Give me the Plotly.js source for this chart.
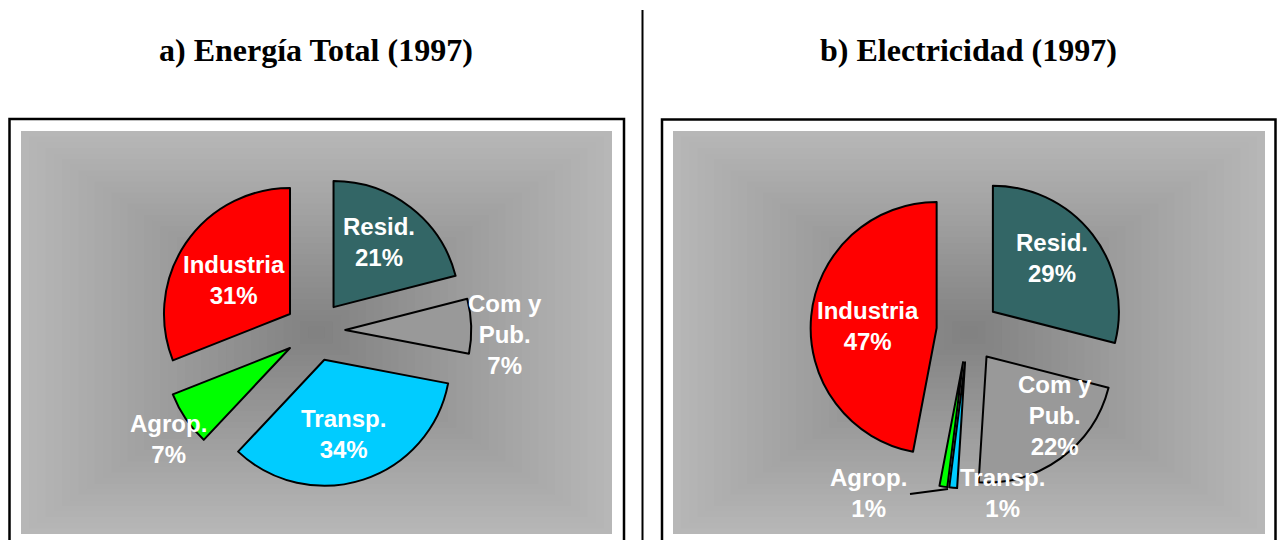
<!DOCTYPE html>
<html><head><meta charset="utf-8">
<script src="https://cdn.plot.ly/plotly-3.0.1.min.js"></script>
<style>html,body{margin:0;padding:0;background:#fff;} #chart{width:1277px;height:540px;}</style>
</head><body><div id="chart"></div>
<script>
// ---- data ----
const categories = ['Resid.', 'Com y Pub.', 'Transp.', 'Agrop.', 'Industria'];
const energiaTotal = [21, 7, 34, 7, 31];
const electricidad = [29, 22, 1, 1, 47];
const panelTitles = ['a) Energía Total (1997)', 'b) Electricidad (1997)'];

// ---- styles / positions ----
const sliceColors = ['#336666', '#999999', '#00CCFF', '#00FF00', '#FF0000'];
const W = 1277, H = 540;
const px = x => x / W;
const py = y => 1 - y / H;

const panels = [
  {values: energiaTotal, title: panelTitles[0], cx: 315, cy: 331, r: 126, pull: 0.24,
   box: [9.5, 119, 624, 560], bg: [21, 131, 612, 534], titleX: 316,
   labelPos: [[379, 242], [505, 334], [343, 434], [168, 439], [234, 280]]},
  {values: electricidad, title: panelTitles[1], cx: 968, cy: 331, r: 126, pull: 0.25,
   box: [662, 119.5, 1275.5, 560], bg: [673, 131, 1265, 534], titleX: 968,
   labelPos: [[1052, 258], [1055, 415], [1002, 493], [868, 493], [868, 326]]}
];

const traces = [];
const shapes = [];
const annotations = [];

// background gradient (rectangular, from center) drawn as concentric rectangles
const edgeGray = 183, centerGray = 128, steps = 36;
panels.forEach(p => {
  const [x0, y0, x1, y1] = p.bg;
  const mx = (x0 + x1) / 2, my = (y0 + y1) / 2;
  const hw = (x1 - x0) / 2, hh = (y1 - y0) / 2;
  for (let i = 0; i < steps; i++) {
    const t = i / steps;
    const g = Math.round(edgeGray + (centerGray - edgeGray) * t);
    const s = 1 - t;
    shapes.push({type: 'rect', xref: 'paper', yref: 'paper', layer: 'below',
      x0: px(mx - hw * s), x1: px(mx + hw * s), y0: py(my + hh * s), y1: py(my - hh * s),
      line: {width: 0}, fillcolor: `rgb(${g},${g},${g})`});
  }
  // frame
  shapes.push({type: 'rect', xref: 'paper', yref: 'paper', layer: 'above',
    x0: px(p.box[0]), x1: px(p.box[2]), y0: py(p.box[3]), y1: py(p.box[1]),
    line: {color: '#000', width: 2.5}, fillcolor: 'rgba(0,0,0,0)'});
});

// vertical divider
shapes.push({type: 'line', xref: 'paper', yref: 'paper', x0: px(642.5), x1: px(642.5),
  y0: py(10), y1: py(545), line: {color: '#000', width: 2}});
// leader line for Agrop. in panel b
shapes.push({type: 'line', xref: 'paper', yref: 'paper', x0: px(910), x1: px(948),
  y0: py(494), y1: py(489), line: {color: '#000', width: 2}});

panels.forEach(p => {
  const half = p.r * (1 + p.pull);
  traces.push({
    type: 'pie', labels: categories, values: p.values, sort: false,
    direction: 'clockwise', rotation: 0, pull: p.pull,
    marker: {colors: sliceColors, line: {color: '#000', width: 2}},
    textinfo: 'none', hoverinfo: 'skip', showlegend: false,
    domain: {x: [px(p.cx - half), px(p.cx + half)], y: [py(p.cy + half), py(p.cy - half)]}
  });
  const total = p.values.reduce((a, b) => a + b, 0);
  categories.forEach((c, i) => {
    const pct = Math.round(p.values[i] / total * 100);
    annotations.push({
      xref: 'paper', yref: 'paper', x: px(p.labelPos[i][0]), y: py(p.labelPos[i][1]),
      xanchor: 'center', yanchor: 'middle', showarrow: false, align: 'center',
      text: c.replace('Com y ', 'Com y<br>') + '<br>' + pct + '%',
      font: {family: 'Liberation Sans, Arial, sans-serif', size: 24, color: '#fff', weight: 'bold'}
    });
  });
  annotations.push({
    xref: 'paper', yref: 'paper', x: px(p.titleX), y: py(50),
    xanchor: 'center', yanchor: 'middle', showarrow: false,
    text: p.title,
    font: {family: 'Liberation Serif, Times New Roman, serif', size: 32, color: '#000', weight: 'bold'}
  });
});

const layout = {
  width: W, height: H, margin: {l: 0, r: 0, t: 0, b: 0},
  paper_bgcolor: '#fff', plot_bgcolor: '#fff', showlegend: false,
  shapes, annotations, hovermode: false
};
Plotly.newPlot('chart', traces, layout, {staticPlot: true, displayModeBar: false});
</script></body></html>
